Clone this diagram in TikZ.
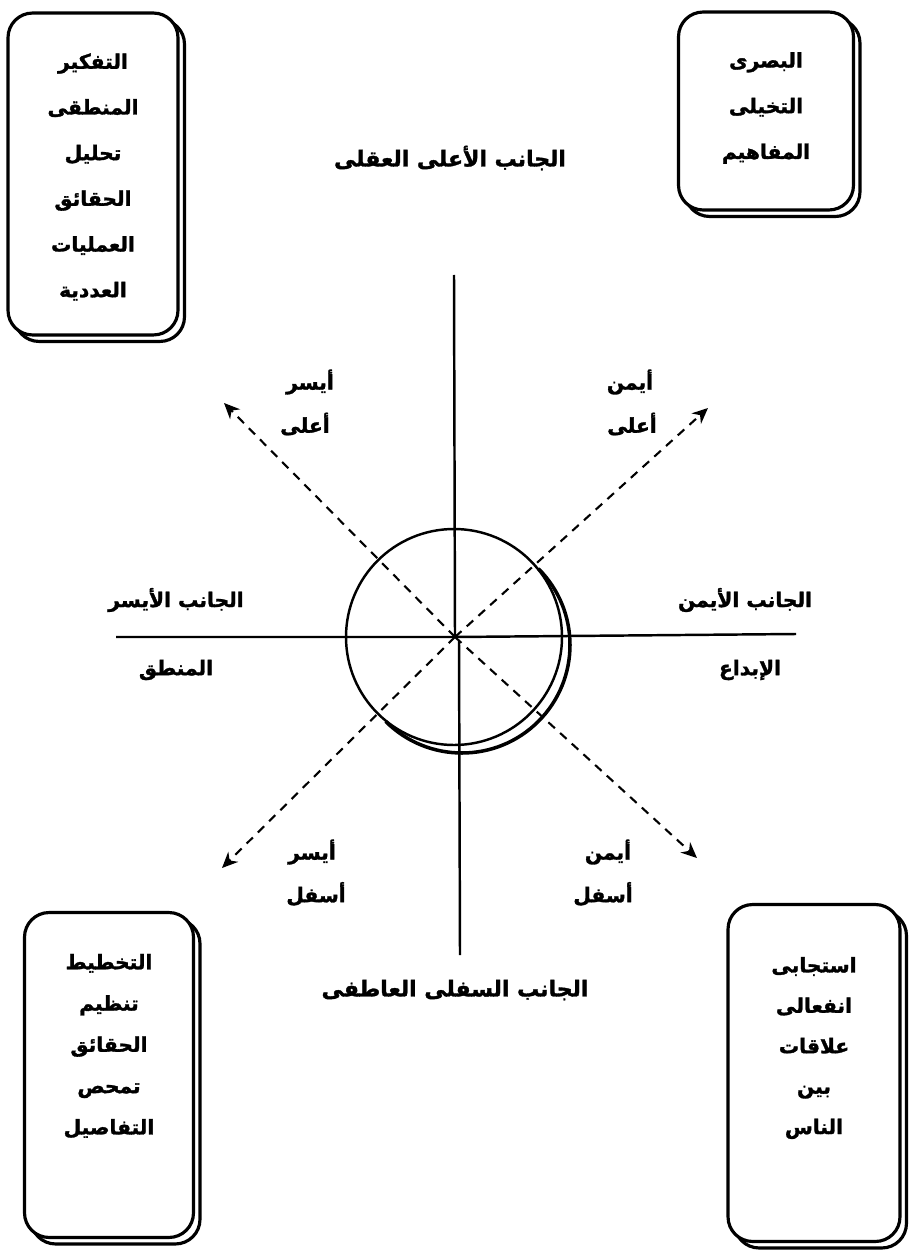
\documentclass[tikz,border=0pt]{standalone}
\usepackage{fontspec}
\usetikzlibrary{arrows.meta,shadows}
\TeXXeTstate=1
\newfontfamily\arabicfont[Script=Arabic, UprightFont={* Bold}, FakeBold=1.5]{DejaVu Sans}
\newcommand{\artxt}[1]{{\arabicfont\beginR #1\endR}}

\begin{document}
\begin{tikzpicture}[x=0.02cm, y=-0.02cm,
    lab/.style={font=\fontsize{11.5}{14}\selectfont},
    plist/.style={align=center, font=\fontsize{11.5}{26}\selectfont},
    panel/.style={draw, line width=1.8pt, rounded corners=14pt, fill=white,
      copy shadow={shadow xshift=1.3mm, shadow yshift=-1.3mm}},
    axis/.style={line width=1.4pt},
    diag/.style={line width=1.2pt, dash pattern=on 5pt off 4pt,
      -{Stealth[length=9pt, width=8pt]}}]
    \useasboundingbox (0,0) rectangle (920,1260);

    % the four boxes
    \node[panel, minimum width=3.4cm, minimum height=6.44cm] (tlbox) at (93,174) {};
    \node[panel, minimum width=3.5cm, minimum height=3.96cm] (trbox) at (766,111) {};
    \node[panel, minimum width=3.38cm, minimum height=6.5cm] (blbox) at (109,1075) {};
    \node[panel, minimum width=3.44cm, minimum height=6.74cm] (brbox) at (814,1073) {};

    \node[plist] (tllist) at (93,177) {\artxt{التفكير}\\\artxt{المنطقى}\\\artxt{تحليل}\\\artxt{الحقائق}\\\artxt{العمليات}\\\artxt{العددية}};
    \node[plist] (trlist) at (766,108) {\artxt{البصرى}\\\artxt{التخيلى}\\\artxt{المفاهيم}};
    \node[plist, font=\fontsize{11.5}{23.5}\selectfont] (bllist) at (109,1046) {\artxt{التخطيط}\\\artxt{تنظيم}\\\artxt{الحقائق}\\\artxt{تمحص}\\\artxt{التفاصيل}};
    \node[plist, font=\fontsize{11.5}{23}\selectfont] (brlist) at (814,1048) {\artxt{استجابى}\\\artxt{انفعالى}\\\artxt{علاقات}\\\artxt{بين}\\\artxt{الناس}};

    % axes
    \coordinate (o) at (455,637);
    \coordinate (obelow) at (459,641);
    \coordinate (north) at (454,275);
    \coordinate (south) at (460,955);
    \coordinate (west) at (116,637);
    \coordinate (east) at (796,634);
    \draw[axis] (north) -- (o);
    \draw[axis] (obelow) -- (south);
    \draw[axis] (west) -- (o) -- (east);

    % circle and its shadow
    \draw[axis] (454,637) circle[radius=108];
    \coordinate (sc) at (462,645);
    \draw[line width=2pt] ([shift={(-45:108)}]sc) arc[start angle=-45, end angle=135, radius=108];

    % diagonals
    \coordinate (ul) at (224,403);
    \coordinate (ur) at (708,408);
    \coordinate (ll) at (222,868);
    \coordinate (lr) at (697,858);
    \draw[diag] (o) -- (ul);
    \draw[diag] (o) -- (ur);
    \draw[diag] (o) -- (ll);
    \draw[diag] (o) -- (lr);

    % labels
    \node[lab, font=\fontsize{12.5}{16}\selectfont] (toptitle) at (450,158) {\artxt{الجانب الأعلى العقلى}};
    \node[lab, font=\fontsize{12.5}{16}\selectfont] (bottitle) at (455,990) {\artxt{الجانب السفلى العاطفى}};
    \node[lab] (leftside) at (176,600) {\artxt{الجانب الأيسر}};
    \node[lab] (leftlogic) at (176,670) {\artxt{المنطق}};
    \node[lab] (rightside) at (745,600) {\artxt{الجانب الأيمن}};
    \node[lab] (rightcreat) at (750,670) {\artxt{الإبداع}};

    \node[lab] (ulA) at (310,382) {\artxt{أيسر}};
    \node[lab] (ulB) at (305,424) {\artxt{أعلى}};
    \node[lab] (urA) at (630,382) {\artxt{أيمن}};
    \node[lab] (urB) at (632,424) {\artxt{أعلى}};
    \node[lab] (llA) at (312,852) {\artxt{أيسر}};
    \node[lab] (llB) at (316,894) {\artxt{أسفل}};
    \node[lab] (lrA) at (608,852) {\artxt{أيمن}};
    \node[lab] (lrB) at (603,894) {\artxt{أسفل}};
\end{tikzpicture}
\end{document}
